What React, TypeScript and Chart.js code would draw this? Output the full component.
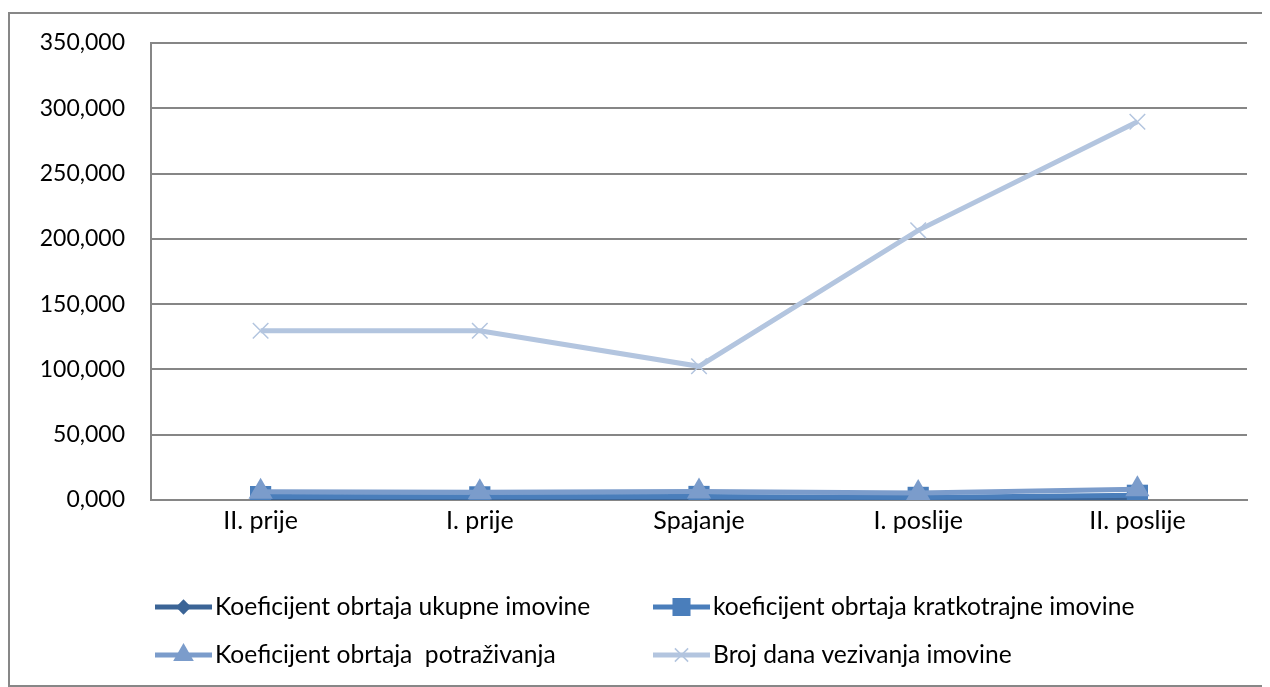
import React, { useEffect, useRef } from 'react';
import { Chart, registerables } from 'chart.js';

Chart.register(...registerables);

const categories = ['II. prije', 'I. prije', 'Spajanje', 'I. poslije', 'II. poslije'];
const ukupneImovine = [0.9, 0.8, 1.0, 0.6, 1.4];
const kratkotrajneImovine = [2.6, 2.4, 2.7, 2.0, 3.6];
const potrazivanja = [6.3, 6.0, 6.6, 5.4, 8.2];
const brojDana = [129.6, 129.6, 102.4, 206.5, 289.7];
const seriesNames = [
  'Koeficijent obrtaja ukupne imovine',
  'koeficijent obrtaja kratkotrajne imovine',
  'Koeficijent obrtaja  potraživanja',
  'Broj dana vezivanja imovine',
];
const yMin = 0;
const yMax = 350;
const yStep = 50;

const FONT = 'Lato, "Noto Sans", sans-serif';
const Y_FONT_SIZE = 23;
const X_FONT_SIZE = 25;
const LEGEND_FONT_SIZE = 24.6;

const colors = ['#3B6496', '#4A7EBB', '#7B9CCB', '#B3C5DF'];
const styles = ['rectRot', 'rect', 'triangle', 'crossRot'];
const radii = [9, 15, 14, 11];

function drawMarker(ctx: CanvasRenderingContext2D, style: string, x: number, y: number, r: number, color: string) {
  ctx.save();
  ctx.fillStyle = color;
  ctx.strokeStyle = color;
  ctx.beginPath();
  if (style === 'rectRot') {
    ctx.moveTo(x - r, y);
    ctx.lineTo(x, y - r);
    ctx.lineTo(x + r, y);
    ctx.lineTo(x, y + r);
    ctx.closePath();
    ctx.fill();
  } else if (style === 'rect') {
    const s = Math.SQRT1_2 * r;
    ctx.rect(x - s, y - s, 2 * s, 2 * s);
    ctx.fill();
  } else if (style === 'triangle') {
    ctx.moveTo(x, y - r);
    ctx.lineTo(x + r * Math.sin(Math.PI / 3), y + r / 2);
    ctx.lineTo(x - r * Math.sin(Math.PI / 3), y + r / 2);
    ctx.closePath();
    ctx.fill();
  } else {
    const o = Math.SQRT1_2 * r;
    ctx.lineWidth = 1.5;
    ctx.moveTo(x - o, y - o);
    ctx.lineTo(x + o, y + o);
    ctx.moveTo(x - o, y + o);
    ctx.lineTo(x + o, y - o);
    ctx.stroke();
  }
  ctx.restore();
}

const legendPlugin = {
  id: 'gridLegend',
  afterDraw(chart: any) {
    const ctx: CanvasRenderingContext2D = chart.ctx;
    const cols = [145, 643];
    const rows = [593, 641];
    seriesNames.forEach((name, i) => {
      const x = cols[i % 2];
      const y = rows[Math.floor(i / 2)];
      ctx.save();
      ctx.strokeStyle = colors[i];
      ctx.lineWidth = 5;
      ctx.beginPath();
      ctx.moveTo(x, y);
      ctx.lineTo(x + 57, y);
      ctx.stroke();
      ctx.restore();
      drawMarker(ctx, styles[i], x + 28.5, y, radii[i] * 0.85, colors[i]);
      ctx.save();
      ctx.fillStyle = '#000';
      ctx.font = `${LEGEND_FONT_SIZE}px ${FONT}`;
      ctx.textBaseline = 'middle';
      ctx.textAlign = 'left';
      ctx.fillText(name, x + 60, y);
      ctx.restore();
    });
  },
};

export default function App() {
  const ref = useRef<HTMLCanvasElement | null>(null);

  useEffect(() => {
    document.documentElement.style.overflow = 'hidden';
    if (!ref.current) return;
    const data = [ukupneImovine, kratkotrajneImovine, potrazivanja, brojDana];
    const chart = new Chart(ref.current, {
      type: 'line',
      data: {
        labels: categories,
        datasets: data.map((d, i) => ({
          label: seriesNames[i],
          data: d,
          borderColor: colors[i],
          backgroundColor: colors[i],
          borderWidth: 5,
          pointStyle: styles[i] as any,
          pointRadius: radii[i],
          pointBackgroundColor: colors[i],
          pointBorderColor: colors[i],
          pointBorderWidth: i === 3 ? 1.5 : 0,
          tension: 0,
          fill: false,
          order: 3 - i,
        })),
      },
      options: {
        responsive: false,
        animation: false,
        devicePixelRatio: 1,
        layout: { padding: { top: 29, right: 9, bottom: 145, left: 0 } },
        plugins: {
          legend: { display: false },
          tooltip: { enabled: false },
        },
        scales: {
          x: {
            offset: true,
            grid: { display: false, drawTicks: false },
            border: { display: true, color: '#868686', width: 2 },
            ticks: {
              color: '#000',
              font: { family: FONT, size: X_FONT_SIZE },
              padding: 6,
              maxRotation: 0,
            },
            afterFit: (s: any) => {
              s.height = 40;
              s.paddingLeft = 0;
              s.paddingRight = 0;
            },
          },
          y: {
            min: yMin,
            max: yMax,
            grid: { color: '#868686', lineWidth: 2, drawTicks: false },
            border: { display: true, color: '#868686', width: 2 },
            ticks: {
              stepSize: yStep,
              color: '#000',
              font: { family: FONT, size: Y_FONT_SIZE },
              padding: 26,
              callback: (v: any) => Number(v).toFixed(3).replace('.', ','),
            },
            afterFit: (s: any) => {
              s.width = 141;
              s.paddingTop = 0;
              s.paddingBottom = 0;
            },
          },
        },
      },
      plugins: [legendPlugin],
    });
    return () => chart.destroy();
  }, []);

  return (
    <div style={{ paddingTop: 4 }}>
      <div
        style={{
          borderTop: '2px solid #878787',
          borderLeft: '2px solid #878787',
          borderBottom: '2px solid #878787',
          width: 1252,
          height: 671,
          overflow: 'hidden',
        }}
      >
        <canvas ref={ref} width={1252} height={671} style={{ display: 'block' }} />
      </div>
    </div>
  );
}
